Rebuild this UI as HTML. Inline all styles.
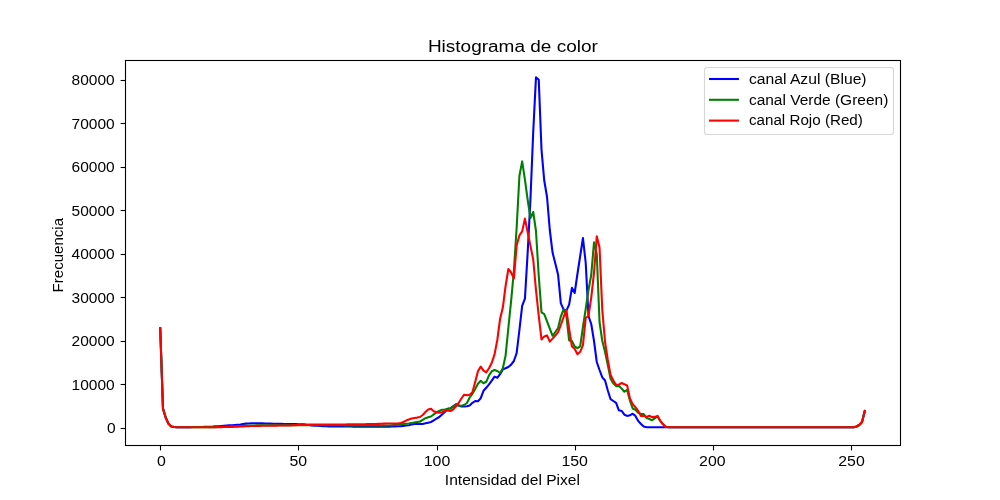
<!DOCTYPE html>
<html><head><meta charset="utf-8"><title>Histograma de color</title>
<style>html,body{margin:0;padding:0;background:#fff;width:1000px;height:500px;overflow:hidden}</style></head>
<body>
<svg width="1000" height="500" viewBox="0 0 1000 500" style="position:absolute;left:0;top:0;will-change:transform">
<rect x="0" y="0" width="1000" height="500" fill="#fff"/>
<clipPath id="c"><rect x="125" y="60" width="775" height="385"/></clipPath>
<g clip-path="url(#c)" fill="none" stroke-width="2.08" stroke-linejoin="round" stroke-linecap="square">
<polyline stroke="#0000ff" points="160.23,328.00 162.99,408.60 165.75,417.80 168.52,423.80 171.28,426.40 174.04,427.00 176.80,427.20 179.57,427.18 182.33,427.16 185.09,427.13 187.86,427.11 190.62,427.09 193.38,427.07 196.14,427.04 198.91,427.02 201.67,427.00 204.43,426.90 207.20,426.80 209.96,426.70 212.72,426.60 215.49,426.40 218.25,426.20 221.01,426.00 223.77,425.80 226.54,425.60 229.30,425.40 232.06,425.17 234.83,424.95 237.59,424.73 240.35,424.50 243.11,424.05 245.88,423.60 248.64,423.45 251.40,423.30 254.17,423.30 256.93,423.30 259.69,423.30 262.46,423.40 265.22,423.50 267.98,423.57 270.74,423.65 273.51,423.73 276.27,423.80 279.03,423.84 281.80,423.88 284.56,423.92 287.32,423.96 290.08,424.00 292.85,424.08 295.61,424.16 298.37,424.24 301.14,424.32 303.90,424.40 306.66,424.73 309.42,425.07 312.19,425.40 314.95,425.60 317.71,425.80 320.48,426.00 323.24,426.12 326.00,426.25 328.77,426.38 331.53,426.50 334.29,426.51 337.05,426.52 339.82,426.53 342.58,426.54 345.34,426.56 348.11,426.57 350.87,426.58 353.63,426.59 356.39,426.60 359.16,426.61 361.92,426.62 364.68,426.63 367.45,426.64 370.21,426.66 372.97,426.67 375.73,426.68 378.50,426.69 381.26,426.70 384.02,426.67 386.79,426.63 389.55,426.60 392.31,426.50 395.08,426.40 397.84,426.30 400.60,426.20 403.36,425.87 406.13,425.53 408.89,425.20 411.65,424.60 414.42,424.00 417.18,423.80 419.94,423.90 422.70,424.00 425.47,423.33 428.23,422.67 430.99,422.00 433.76,420.33 436.52,418.67 439.28,417.00 442.04,414.50 444.81,412.00 447.57,408.80 450.33,408.30 453.10,406.30 455.86,404.30 458.62,405.60 461.39,406.50 464.15,406.50 466.91,406.20 469.67,405.40 472.44,402.80 475.20,401.00 477.96,401.20 480.73,398.20 483.49,390.80 486.25,387.80 489.01,384.40 491.78,380.60 494.54,376.60 497.30,377.80 500.07,374.20 502.83,369.40 505.59,368.20 508.35,367.00 511.12,364.60 513.88,361.00 516.64,353.20 519.41,330.00 522.17,305.80 524.93,298.60 527.70,252.00 530.46,199.00 533.22,132.00 535.98,77.40 538.75,79.80 541.51,149.80 544.27,180.80 547.04,197.00 549.80,230.00 552.56,252.60 555.32,263.40 558.09,274.80 560.85,303.40 563.61,309.40 566.38,310.60 569.14,304.60 571.90,287.80 574.66,293.00 577.43,274.00 580.19,256.00 582.95,238.00 585.72,263.00 588.48,316.00 591.24,324.00 594.01,341.00 596.77,362.00 599.53,370.00 602.29,377.40 605.06,380.50 607.82,390.50 610.58,399.20 613.35,401.00 616.11,402.90 618.87,410.30 621.63,410.90 624.40,414.70 627.16,415.90 629.92,415.30 632.69,413.70 635.45,415.90 638.21,420.90 640.98,424.00 643.74,426.50 646.50,427.30 649.26,427.30 652.03,427.30 654.79,427.30 657.55,427.30 660.32,427.30 663.08,427.30 665.84,427.30 668.60,427.30 671.37,427.30 674.13,427.30 676.89,427.30 679.66,427.30 682.42,427.30 685.18,427.30 687.94,427.30 690.71,427.30 693.47,427.30 696.23,427.30 699.00,427.30 701.76,427.30 704.52,427.30 707.29,427.30 710.05,427.30 712.81,427.30 715.57,427.30 718.34,427.30 721.10,427.30 723.86,427.30 726.63,427.30 729.39,427.30 732.15,427.30 734.91,427.30 737.68,427.30 740.44,427.30 743.20,427.30 745.97,427.30 748.73,427.30 751.49,427.30 754.25,427.30 757.02,427.30 759.78,427.30 762.54,427.30 765.31,427.30 768.07,427.30 770.83,427.30 773.60,427.30 776.36,427.30 779.12,427.30 781.88,427.30 784.65,427.30 787.41,427.30 790.17,427.30 792.94,427.30 795.70,427.30 798.46,427.30 801.22,427.30 803.99,427.30 806.75,427.30 809.51,427.30 812.28,427.30 815.04,427.30 817.80,427.30 820.56,427.30 823.33,427.30 826.09,427.30 828.85,427.30 831.62,427.30 834.38,427.30 837.14,427.30 839.91,427.30 842.67,427.30 845.43,427.30 848.19,427.30 850.96,427.30 853.72,427.20 856.48,426.50 859.25,425.00 862.01,422.00 864.77,411.00"/>
<polyline stroke="#008000" points="160.23,328.20 162.99,408.60 165.75,417.80 168.52,423.80 171.28,426.40 174.04,427.00 176.80,427.20 179.57,427.19 182.33,427.19 185.09,427.18 187.86,427.17 190.62,427.16 193.38,427.16 196.14,427.15 198.91,427.14 201.67,427.14 204.43,427.13 207.20,427.12 209.96,427.11 212.72,427.11 215.49,427.10 218.25,426.98 221.01,426.86 223.77,426.74 226.54,426.62 229.30,426.50 232.06,426.38 234.83,426.26 237.59,426.14 240.35,426.02 243.11,425.90 245.88,425.80 248.64,425.70 251.40,425.60 254.17,425.50 256.93,425.40 259.69,425.36 262.46,425.32 265.22,425.28 267.98,425.24 270.74,425.20 273.51,425.20 276.27,425.20 279.03,425.20 281.80,425.20 284.56,425.20 287.32,425.20 290.08,425.20 292.85,425.20 295.61,425.20 298.37,425.20 301.14,425.20 303.90,425.20 306.66,425.20 309.42,425.20 312.19,425.20 314.95,425.20 317.71,425.20 320.48,425.20 323.24,425.20 326.00,425.20 328.77,425.22 331.53,425.24 334.29,425.26 337.05,425.28 339.82,425.30 342.58,425.32 345.34,425.34 348.11,425.36 350.87,425.38 353.63,425.40 356.39,425.42 359.16,425.44 361.92,425.46 364.68,425.48 367.45,425.50 370.21,425.52 372.97,425.54 375.73,425.56 378.50,425.58 381.26,425.60 384.02,425.57 386.79,425.53 389.55,425.50 392.31,425.18 395.08,424.85 397.84,424.52 400.60,424.20 403.36,423.97 406.13,423.73 408.89,423.50 411.65,423.00 414.42,422.50 417.18,422.00 419.94,421.50 422.70,419.85 425.47,418.20 428.23,417.35 430.99,416.50 433.76,414.40 436.52,412.30 439.28,411.00 442.04,409.70 444.81,409.50 447.57,408.95 450.33,408.40 453.10,407.00 455.86,404.50 458.62,405.60 461.39,405.80 464.15,405.00 466.91,403.00 469.67,397.50 472.44,393.80 475.20,389.00 477.96,383.80 480.73,380.80 483.49,383.20 486.25,381.80 489.01,375.40 491.78,371.20 494.54,370.00 497.30,371.00 500.07,373.00 502.83,368.20 505.59,355.60 508.35,328.00 511.12,301.00 513.88,271.00 516.64,228.00 519.41,176.00 522.17,161.40 524.93,179.60 527.70,200.00 530.46,218.00 533.22,212.00 535.98,231.00 538.75,276.00 541.51,312.40 544.27,314.20 547.04,321.40 549.80,328.60 552.56,335.80 555.32,332.00 558.09,328.00 560.85,316.50 563.61,309.40 566.38,316.00 569.14,340.40 571.90,341.00 574.66,346.40 577.43,348.20 580.19,346.40 582.95,327.00 585.72,309.00 588.48,290.00 591.24,275.00 594.01,242.40 596.77,254.00 599.53,322.00 602.29,341.00 605.06,352.00 607.82,365.00 610.58,378.70 613.35,383.60 616.11,386.10 618.87,385.90 621.63,388.60 624.40,391.70 627.16,389.90 629.92,400.40 632.69,408.50 635.45,409.70 638.21,412.80 640.98,414.00 643.74,414.00 646.50,417.80 649.26,419.00 652.03,420.20 654.79,418.40 657.55,416.20 660.32,420.90 663.08,424.30 665.84,426.80 668.60,427.30 671.37,427.30 674.13,427.30 676.89,427.30 679.66,427.30 682.42,427.30 685.18,427.30 687.94,427.30 690.71,427.30 693.47,427.30 696.23,427.30 699.00,427.30 701.76,427.30 704.52,427.30 707.29,427.30 710.05,427.30 712.81,427.30 715.57,427.30 718.34,427.30 721.10,427.30 723.86,427.30 726.63,427.30 729.39,427.30 732.15,427.30 734.91,427.30 737.68,427.30 740.44,427.30 743.20,427.30 745.97,427.30 748.73,427.30 751.49,427.30 754.25,427.30 757.02,427.30 759.78,427.30 762.54,427.30 765.31,427.30 768.07,427.30 770.83,427.30 773.60,427.30 776.36,427.30 779.12,427.30 781.88,427.30 784.65,427.30 787.41,427.30 790.17,427.30 792.94,427.30 795.70,427.30 798.46,427.30 801.22,427.30 803.99,427.30 806.75,427.30 809.51,427.30 812.28,427.30 815.04,427.30 817.80,427.30 820.56,427.30 823.33,427.30 826.09,427.30 828.85,427.30 831.62,427.30 834.38,427.30 837.14,427.30 839.91,427.30 842.67,427.30 845.43,427.30 848.19,427.30 850.96,427.30 853.72,427.20 856.48,426.50 859.25,425.00 862.01,422.00 864.77,411.00"/>
<polyline stroke="#ff0000" points="160.23,328.50 162.99,408.60 165.75,417.80 168.52,423.80 171.28,426.40 174.04,427.00 176.80,427.20 179.57,427.20 182.33,427.20 185.09,427.20 187.86,427.20 190.62,427.20 193.38,427.20 196.14,427.20 198.91,427.20 201.67,427.20 204.43,427.20 207.20,427.20 209.96,427.20 212.72,427.20 215.49,427.20 218.25,427.16 221.01,427.12 223.77,427.08 226.54,427.04 229.30,427.00 232.06,426.88 234.83,426.76 237.59,426.64 240.35,426.52 243.11,426.40 245.88,426.27 248.64,426.13 251.40,426.00 254.17,425.96 256.93,425.91 259.69,425.87 262.46,425.83 265.22,425.79 267.98,425.74 270.74,425.70 273.51,425.66 276.27,425.61 279.03,425.57 281.80,425.53 284.56,425.49 287.32,425.44 290.08,425.40 292.85,425.28 295.61,425.16 298.37,425.04 301.14,424.92 303.90,424.80 306.66,424.70 309.42,424.60 312.19,424.50 314.95,424.49 317.71,424.49 320.48,424.48 323.24,424.47 326.00,424.47 328.77,424.46 331.53,424.45 334.29,424.45 337.05,424.44 339.82,424.43 342.58,424.43 345.34,424.42 348.11,424.41 350.87,424.41 353.63,424.40 356.39,424.35 359.16,424.30 361.92,424.25 364.68,424.20 367.45,424.15 370.21,424.10 372.97,424.05 375.73,424.00 378.50,423.88 381.26,423.75 384.02,423.62 386.79,423.50 389.55,423.50 392.31,423.50 395.08,423.50 397.84,423.60 400.60,423.00 403.36,422.00 406.13,420.60 408.89,419.60 411.65,418.60 414.42,418.00 417.18,417.60 419.94,417.00 422.70,415.00 425.47,412.00 428.23,409.50 430.99,408.70 433.76,411.30 436.52,412.30 439.28,412.60 442.04,412.20 444.81,411.00 447.57,410.50 450.33,411.00 453.10,409.50 455.86,406.50 458.62,403.00 461.39,398.50 464.15,394.70 466.91,395.30 469.67,394.70 472.44,392.20 475.20,382.00 477.96,371.20 480.73,366.60 483.49,370.60 486.25,372.40 489.01,368.20 491.78,362.80 494.54,354.40 497.30,340.00 500.07,319.00 502.83,307.60 505.59,286.00 508.35,269.00 511.12,272.50 513.88,278.50 516.64,245.60 519.41,235.40 522.17,231.40 524.93,218.60 527.70,232.20 530.46,245.90 533.22,259.50 535.98,290.00 538.75,316.00 541.51,339.50 544.27,336.40 547.04,335.40 549.80,341.60 552.56,338.60 555.32,335.50 558.09,332.20 560.85,325.00 563.61,317.00 566.38,310.00 569.14,329.00 571.90,346.40 574.66,348.80 577.43,354.20 580.19,351.80 582.95,345.20 585.72,317.80 588.48,316.00 591.24,297.60 594.01,272.80 596.77,236.30 599.53,247.50 602.29,310.00 605.06,342.00 607.82,360.00 610.58,375.00 613.35,380.50 616.11,384.90 618.87,384.60 621.63,383.00 624.40,384.30 627.16,385.50 629.92,398.50 632.69,404.10 635.45,407.20 638.21,410.90 640.98,415.90 643.74,415.70 646.50,416.90 649.26,415.70 652.03,417.10 654.79,416.90 657.55,415.90 660.32,420.90 663.08,424.30 665.84,426.80 668.60,427.30 671.37,427.30 674.13,427.30 676.89,427.30 679.66,427.30 682.42,427.30 685.18,427.30 687.94,427.30 690.71,427.30 693.47,427.30 696.23,427.30 699.00,427.30 701.76,427.30 704.52,427.30 707.29,427.30 710.05,427.30 712.81,427.30 715.57,427.30 718.34,427.30 721.10,427.30 723.86,427.30 726.63,427.30 729.39,427.30 732.15,427.30 734.91,427.30 737.68,427.30 740.44,427.30 743.20,427.30 745.97,427.30 748.73,427.30 751.49,427.30 754.25,427.30 757.02,427.30 759.78,427.30 762.54,427.30 765.31,427.30 768.07,427.30 770.83,427.30 773.60,427.30 776.36,427.30 779.12,427.30 781.88,427.30 784.65,427.30 787.41,427.30 790.17,427.30 792.94,427.30 795.70,427.30 798.46,427.30 801.22,427.30 803.99,427.30 806.75,427.30 809.51,427.30 812.28,427.30 815.04,427.30 817.80,427.30 820.56,427.30 823.33,427.30 826.09,427.30 828.85,427.30 831.62,427.30 834.38,427.30 837.14,427.30 839.91,427.30 842.67,427.30 845.43,427.30 848.19,427.30 850.96,427.30 853.72,427.20 856.48,426.50 859.25,425.00 862.01,422.00 864.77,411.00"/>
</g>
<rect x="125.5" y="60.5" width="775" height="385" fill="none" stroke="#000" stroke-width="1.1"/>
<g>
<line x1="160.5" y1="445.5" x2="160.5" y2="450.4" stroke="#000" stroke-width="1.1"/>
<text transform="translate(161.50,465.5) scale(1.08,1)" text-anchor="middle" font-family="Liberation Sans, sans-serif" font-size="14.7" fill="#000">0</text>
<line x1="298.5" y1="445.5" x2="298.5" y2="450.4" stroke="#000" stroke-width="1.1"/>
<text transform="translate(298.20,465.5) scale(1.08,1)" text-anchor="middle" font-family="Liberation Sans, sans-serif" font-size="14.7" fill="#000">50</text>
<line x1="437.5" y1="445.5" x2="437.5" y2="450.4" stroke="#000" stroke-width="1.1"/>
<text transform="translate(437.00,465.5) scale(1.08,1)" text-anchor="middle" font-family="Liberation Sans, sans-serif" font-size="14.7" fill="#000">100</text>
<line x1="575.5" y1="445.5" x2="575.5" y2="450.4" stroke="#000" stroke-width="1.1"/>
<text transform="translate(574.70,465.5) scale(1.08,1)" text-anchor="middle" font-family="Liberation Sans, sans-serif" font-size="14.7" fill="#000">150</text>
<line x1="713.5" y1="445.5" x2="713.5" y2="450.4" stroke="#000" stroke-width="1.1"/>
<text transform="translate(712.30,465.5) scale(1.08,1)" text-anchor="middle" font-family="Liberation Sans, sans-serif" font-size="14.7" fill="#000">200</text>
<line x1="851.5" y1="445.5" x2="851.5" y2="450.4" stroke="#000" stroke-width="1.1"/>
<text transform="translate(851.50,465.5) scale(1.08,1)" text-anchor="middle" font-family="Liberation Sans, sans-serif" font-size="14.7" fill="#000">250</text>
<line x1="120.6" y1="428.50" x2="125.5" y2="428.50" stroke="#000" stroke-width="1.1"/>
<text transform="translate(115.7,433.10) scale(1.055,1)" text-anchor="end" font-family="Liberation Sans, sans-serif" font-size="14.7" fill="#000">0</text>
<line x1="120.6" y1="384.50" x2="125.5" y2="384.50" stroke="#000" stroke-width="1.1"/>
<text transform="translate(114.7,390.10) scale(1.055,1)" text-anchor="end" font-family="Liberation Sans, sans-serif" font-size="14.7" fill="#000">10000</text>
<line x1="120.6" y1="341.50" x2="125.5" y2="341.50" stroke="#000" stroke-width="1.1"/>
<text transform="translate(114.7,346.10) scale(1.055,1)" text-anchor="end" font-family="Liberation Sans, sans-serif" font-size="14.7" fill="#000">20000</text>
<line x1="120.6" y1="297.50" x2="125.5" y2="297.50" stroke="#000" stroke-width="1.1"/>
<text transform="translate(114.7,303.10) scale(1.055,1)" text-anchor="end" font-family="Liberation Sans, sans-serif" font-size="14.7" fill="#000">30000</text>
<line x1="120.6" y1="254.50" x2="125.5" y2="254.50" stroke="#000" stroke-width="1.1"/>
<text transform="translate(114.7,259.10) scale(1.055,1)" text-anchor="end" font-family="Liberation Sans, sans-serif" font-size="14.7" fill="#000">40000</text>
<line x1="120.6" y1="210.50" x2="125.5" y2="210.50" stroke="#000" stroke-width="1.1"/>
<text transform="translate(114.7,216.10) scale(1.055,1)" text-anchor="end" font-family="Liberation Sans, sans-serif" font-size="14.7" fill="#000">50000</text>
<line x1="120.6" y1="167.50" x2="125.5" y2="167.50" stroke="#000" stroke-width="1.1"/>
<text transform="translate(114.7,172.10) scale(1.055,1)" text-anchor="end" font-family="Liberation Sans, sans-serif" font-size="14.7" fill="#000">60000</text>
<line x1="120.6" y1="123.50" x2="125.5" y2="123.50" stroke="#000" stroke-width="1.1"/>
<text transform="translate(114.7,129.10) scale(1.055,1)" text-anchor="end" font-family="Liberation Sans, sans-serif" font-size="14.7" fill="#000">70000</text>
<line x1="120.6" y1="80.50" x2="125.5" y2="80.50" stroke="#000" stroke-width="1.1"/>
<text transform="translate(114.7,85.10) scale(1.055,1)" text-anchor="end" font-family="Liberation Sans, sans-serif" font-size="14.7" fill="#000">80000</text>
<text x="427.9" y="52" font-family="Liberation Sans, sans-serif" font-size="17.3" textLength="169.9" lengthAdjust="spacingAndGlyphs" fill="#000">Histograma de color</text>
<text x="444.8" y="485" font-family="Liberation Sans, sans-serif" font-size="14.7" textLength="135.2" lengthAdjust="spacingAndGlyphs" fill="#000">Intensidad del Pixel</text>
<text transform="translate(63.4,292.4) rotate(-90)" font-family="Liberation Sans, sans-serif" font-size="14.7" textLength="74.4" lengthAdjust="spacingAndGlyphs" fill="#000">Frecuencia</text>
</g>
<rect x="704.5" y="67.5" width="189" height="67" rx="2.8" ry="2.8" fill="#fff" fill-opacity="0.8" stroke="#cccccc" stroke-opacity="0.8" stroke-width="1.1"/>
<line x1="710" y1="79.0" x2="737.9" y2="79.0" stroke="#0000ff" stroke-width="2.08" stroke-linecap="square"/>
<text x="748.9" y="83.7" font-family="Liberation Sans, sans-serif" font-size="14.7" textLength="117.7" lengthAdjust="spacingAndGlyphs" fill="#000">canal Azul (Blue)</text>
<line x1="710" y1="99.8" x2="737.9" y2="99.8" stroke="#008000" stroke-width="2.08" stroke-linecap="square"/>
<text x="748.9" y="104.5" font-family="Liberation Sans, sans-serif" font-size="14.7" textLength="139.4" lengthAdjust="spacingAndGlyphs" fill="#000">canal Verde (Green)</text>
<line x1="710" y1="120.6" x2="737.9" y2="120.6" stroke="#ff0000" stroke-width="2.08" stroke-linecap="square"/>
<text x="748.9" y="125.2" font-family="Liberation Sans, sans-serif" font-size="14.7" textLength="114.0" lengthAdjust="spacingAndGlyphs" fill="#000">canal Rojo (Red)</text>
</svg>
</body></html>
